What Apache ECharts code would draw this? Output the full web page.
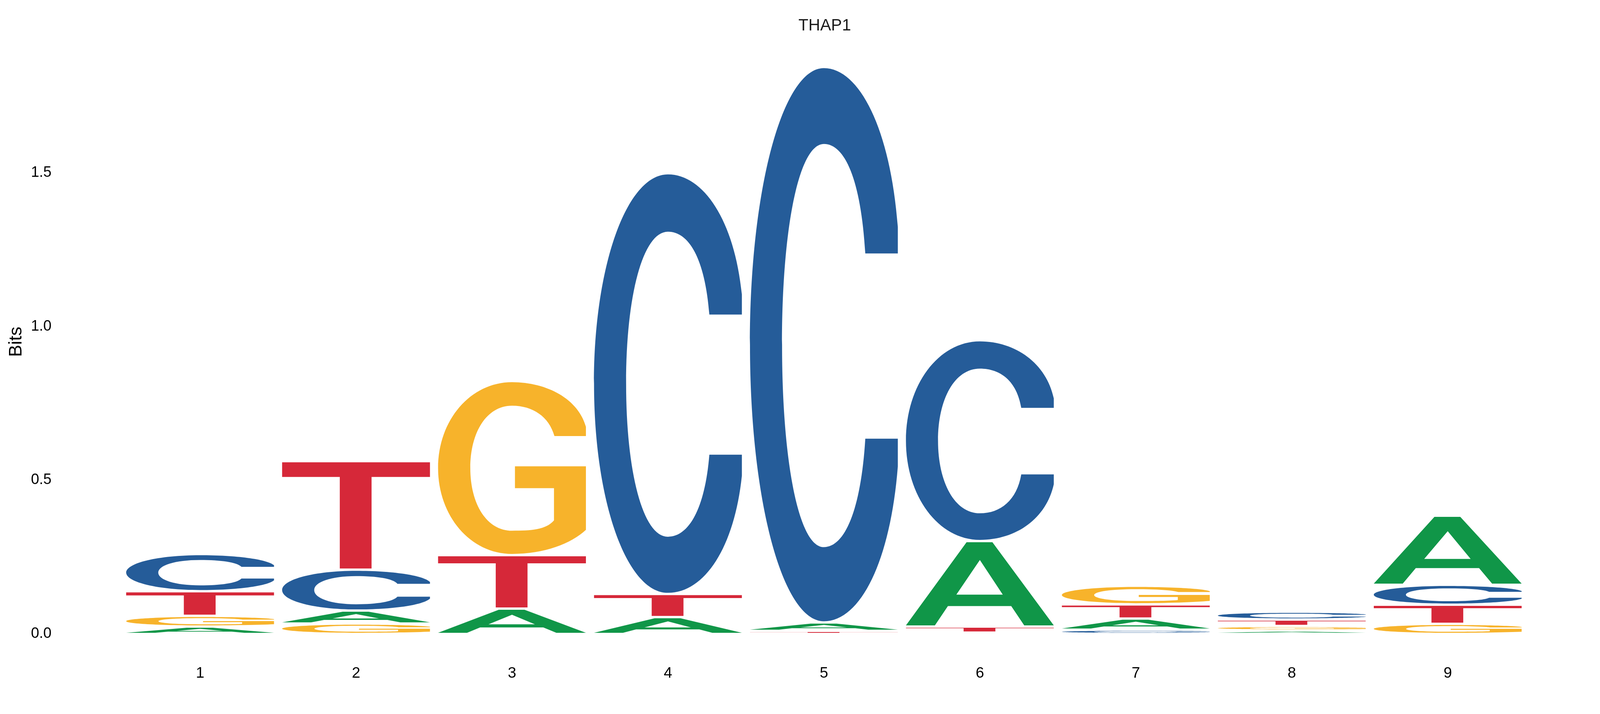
<!DOCTYPE html>
<html>
<head>
<meta charset="utf-8">
<script src="https://cdn.jsdelivr.net/npm/echarts@6/dist/echarts.min.js"></script>
<style>
html,body{margin:0;padding:0;background:#fff;overflow:hidden;}
#chart{width:100vw;height:100vh;}
</style>
</head>
<body>
<div id="chart"></div>
<script>
// ---- data (information content in bits per letter, per position) ----
const titleText = 'THAP1';
const positions = ['1', '2', '3', '4', '5', '6', '7', '8', '9'];
const letters = ['A', 'C', 'G', 'T'];
const bitsA = [0.024, 0.042, 0.0825, 0.055, 0.0273, 0.278, 0.036, 0.0114, 0.2246];
const bitsC = [0.121, 0.133, 0.0, 1.368, 1.806, 0.653, 0.014, 0.0254, 0.0647];
const bitsG = [0.035, 0.034, 0.566, 0.0, 0.0, 0.0044, 0.0605, 0.0146, 0.033];
const bitsT = [0.080, 0.353, 0.174, 0.075, 0.0102, 0.0197, 0.0463, 0.0209, 0.0622];
const yTickValues = [0, 0.5, 1.0, 1.5];

// ---- styling ----
const letterColors = { A: '#109648', C: '#255C99', G: '#F7B32B', T: '#D62839' };
const glyphPaths = {
  A: 'M0,100 L41,0 L58.5,0 L100,100 L80,100 L71.2,76.8 L28.4,76.8 L19.6,100 Z M34.1,63 L65.5,63 L50,21.4 Z',
  C: 'M100,33.5 L100,28.7 C95,11 74,0 50,0 C22,0 0,22 0,50 C0,78 22,100 50,100 C75,100 95,89 100,72 L100,67 L78,67 C75,80 64,86.6 50,86.6 C33,86.6 21.7,71 21.7,50 C21.7,29 33,13.7 50,13.7 C64,13.7 75,20 78,33.5 Z',
  G: 'M100,31.4 L100,26 C95,10 74,0 50,0 C22,0 0,22 0,50 C0,78 22,100 50,100 C72,100 90,94 100,86 L100,49 L52,49 L52,61.7 L78.4,61.7 L78.4,80.5 C73,86 63,86.5 50,86.5 C33,86.5 21.8,71 21.8,50 C21.8,29 33,13.7 50,13.7 C64,13.7 75,20 78.7,31.4 Z',
  T: 'M0,0 L100,0 L100,13.8 L60.5,13.8 L60.5,100 L39,100 L39,13.8 L0,13.8 Z'
};

// ---- build stacked letter data (ascending order, largest on top) ----
const bitsByLetter = { A: bitsA, C: bitsC, G: bitsG, T: bitsT };
const stackData = [];
positions.forEach(function (p, i) {
  const items = letters.map(function (l) { return { l: l, v: bitsByLetter[l][i] }; })
    .filter(function (d) { return d.v > 0; })
    .sort(function (a, b) { return a.v - b.v; });
  let base = 0;
  items.forEach(function (d) {
    stackData.push([i, base, base + d.v, letters.indexOf(d.l)]);
    base += d.v;
  });
});

// layout designed for a 4350 x 1829 frame; map it onto the actual viewport
const W = window.innerWidth || 4350;
const H = window.innerHeight || 1829;
const sx = W / 4350;
const sy = H / 1829;
const sf = (sx + sy) / 2;

const chart = echarts.init(document.getElementById('chart'), null, { renderer: 'canvas', width: W, height: H });
const FONT = '"Liberation Sans", Arial, Helvetica, sans-serif';

chart.setOption({
  animation: false,
  backgroundColor: '#ffffff',
  title: {
    text: titleText,
    left: 2237 * sx,
    top: 40 * sy,
    textAlign: 'center',
    textStyle: { fontFamily: FONT, fontSize: 43 * sf, fontWeight: 'normal', color: '#1a1a1a' }
  },
  grid: { left: 332 * sx, right: 202 * sx, top: 127 * sy, bottom: 205 * sy, containLabel: false },
  xAxis: {
    type: 'category',
    data: positions,
    boundaryGap: true,
    axisLine: { show: false },
    axisTick: { show: false },
    splitLine: { show: false },
    axisLabel: { fontFamily: FONT, fontSize: 40 * sf, color: '#000', margin: 82 * sy }
  },
  yAxis: {
    type: 'value',
    min: 0,
    max: 1.9,
    interval: 0.5,
    name: 'Bits',
    nameLocation: 'middle',
    nameRotate: 90,
    nameGap: 262 * sx,
    nameTextStyle: { fontFamily: FONT, fontSize: 48 * sf, color: '#000' },
    axisLine: { show: false },
    axisTick: { show: false },
    splitLine: { show: false },
    axisLabel: {
      fontFamily: FONT, fontSize: 39 * sf, color: '#000', margin: 192 * sx, showMaxLabel: false,
      formatter: function (v) {
        for (let k = 0; k < yTickValues.length; k++) {
          if (Math.abs(yTickValues[k] - v) < 1e-6) return yTickValues[k].toFixed(1);
        }
        return '';
      }
    }
  },
  series: [{
    type: 'custom',
    clip: false,
    data: stackData,
    renderItem: function (params, api) {
      const xi = api.value(0);
      const y0 = api.value(1);
      const y1 = api.value(2);
      const letter = letters[api.value(3)];
      const pBottom = api.coord([xi, y0]);
      const pTop = api.coord([xi, y1]);
      const band = api.size([1, 0])[0];
      const w = band * 0.948;
      const pad = 3 * sy;
      const top = pTop[1] + pad;
      const h = (pBottom[1] - pad) - top;
      if (h <= 0.05) return null;
      return {
        type: 'path',
        shape: {
          pathData: glyphPaths[letter],
          x: pBottom[0] - w / 2,
          y: top,
          width: w,
          height: h,
          layout: 'cover'
        },
        style: { fill: letterColors[letter], stroke: null }
      };
    }
  }]
});
</script>
</body>
</html>
